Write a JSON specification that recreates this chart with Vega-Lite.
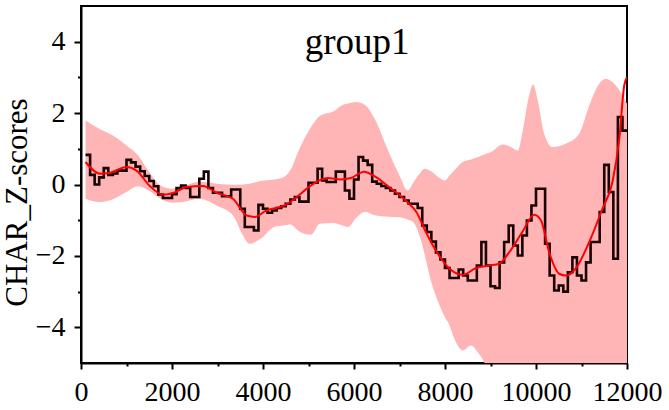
{
  "$schema": "https://vega.github.io/schema/vega-lite/v6.json",
  "width": 546,
  "height": 357,
  "autosize": {"type": "none"},
  "padding": {"left": 81, "top": 6, "right": 42, "bottom": 47},
  "background": "white",
  "config": {
    "view": {"stroke": "black", "strokeWidth": 2},
    "axis": {
      "grid": false,
      "domainColor": "black",
      "domainWidth": 2,
      "tickColor": "black",
      "tickWidth": 2,
      "labelFont": "Liberation Serif",
      "labelFontSize": 28,
      "labelColor": "black",
      "labelOverlap": false,
      "labelFlush": false,
      "titleFont": "Liberation Serif",
      "titleFontSize": 31,
      "titleFontWeight": "normal",
      "titleColor": "black"
    }
  },
  "datasets": {
    "band": [
      {"year": 100, "z": 1.80, "lo": -0.40},
      {"year": 400, "z": 1.56, "lo": -0.49},
      {"year": 700, "z": 1.37, "lo": -0.41},
      {"year": 1000, "z": 1.09, "lo": -0.21},
      {"year": 1250, "z": 0.82, "lo": -0.05},
      {"year": 1450, "z": 0.44, "lo": -0.14},
      {"year": 1750, "z": -0.03, "lo": -0.40},
      {"year": 2000, "z": -0.12, "lo": -0.51},
      {"year": 2200, "z": -0.07, "lo": -0.50},
      {"year": 2600, "z": 0.08, "lo": -0.40},
      {"year": 3000, "z": 0.02, "lo": -0.60},
      {"year": 3350, "z": -0.01, "lo": -0.88},
      {"year": 3550, "z": 0.00, "lo": -1.40},
      {"year": 3700, "z": 0.02, "lo": -1.66},
      {"year": 3950, "z": 0.10, "lo": -1.52},
      {"year": 4250, "z": 0.14, "lo": -1.19},
      {"year": 4450, "z": 0.20, "lo": -1.15},
      {"year": 4600, "z": 0.40, "lo": -1.12},
      {"year": 4800, "z": 1.00, "lo": -1.32},
      {"year": 5050, "z": 1.60, "lo": -1.41},
      {"year": 5250, "z": 1.92, "lo": -1.10},
      {"year": 5550, "z": 2.05, "lo": -1.08},
      {"year": 5750, "z": 2.23, "lo": -1.15},
      {"year": 5870, "z": 2.27, "lo": -1.19},
      {"year": 6050, "z": 2.31, "lo": -0.93},
      {"year": 6250, "z": 2.22, "lo": -0.76},
      {"year": 6450, "z": 1.85, "lo": -0.86},
      {"year": 6750, "z": 0.95, "lo": -0.90},
      {"year": 7000, "z": 0.25, "lo": -0.92},
      {"year": 7180, "z": -0.17, "lo": -0.98},
      {"year": 7300, "z": 0.05, "lo": -1.05},
      {"year": 7440, "z": 0.30, "lo": -1.43},
      {"year": 7550, "z": 0.44, "lo": -1.95},
      {"year": 7660, "z": 0.40, "lo": -2.55},
      {"year": 7880, "z": 0.18, "lo": -3.39},
      {"year": 7990, "z": 0.11, "lo": -3.70},
      {"year": 8100, "z": 0.25, "lo": -3.95},
      {"year": 8170, "z": 0.35, "lo": -4.20},
      {"year": 8280, "z": 0.50, "lo": -4.51},
      {"year": 8390, "z": 0.63, "lo": -4.65},
      {"year": 8570, "z": 0.70, "lo": -4.51},
      {"year": 8720, "z": 0.76, "lo": -4.70},
      {"year": 8900, "z": 0.86, "lo": -5.08},
      {"year": 9000, "z": 0.90, "lo": -5.40},
      {"year": 9270, "z": 1.12, "lo": -6.00},
      {"year": 9450, "z": 1.05, "lo": -6.30},
      {"year": 9600, "z": 0.95, "lo": -6.50},
      {"year": 9700, "z": 1.45, "lo": -6.60},
      {"year": 9850, "z": 2.50, "lo": -6.80},
      {"year": 9940, "z": 2.80, "lo": -7.00},
      {"year": 10030, "z": 2.40, "lo": -7.00},
      {"year": 10180, "z": 1.42, "lo": -7.00},
      {"year": 10360, "z": 1.05, "lo": -7.00},
      {"year": 10650, "z": 1.14, "lo": -7.00},
      {"year": 10950, "z": 1.42, "lo": -7.00},
      {"year": 11170, "z": 2.21, "lo": -7.00},
      {"year": 11390, "z": 2.82, "lo": -7.00},
      {"year": 11530, "z": 2.96, "lo": -7.00},
      {"year": 11720, "z": 2.82, "lo": -7.00},
      {"year": 11900, "z": 2.50, "lo": -7.00},
      {"year": 12000, "z": 2.26, "lo": -7.00}
    ],
    "steps": [
      {"year": 100, "z": 0.83},
      {"year": 200, "z": 0.27},
      {"year": 300, "z": 0.00},
      {"year": 400, "z": 0.20},
      {"year": 500, "z": 0.46},
      {"year": 600, "z": 0.27},
      {"year": 700, "z": 0.31},
      {"year": 800, "z": 0.39},
      {"year": 1000, "z": 0.69},
      {"year": 1100, "z": 0.62},
      {"year": 1200, "z": 0.50},
      {"year": 1300, "z": 0.37},
      {"year": 1400, "z": 0.24},
      {"year": 1500, "z": 0.10},
      {"year": 1600, "z": -0.05},
      {"year": 1700, "z": -0.28},
      {"year": 1800, "z": -0.38},
      {"year": 2000, "z": -0.27},
      {"year": 2100, "z": -0.10},
      {"year": 2200, "z": -0.03},
      {"year": 2300, "z": -0.10},
      {"year": 2400, "z": -0.35},
      {"year": 2600, "z": 0.16},
      {"year": 2700, "z": 0.36},
      {"year": 2800, "z": -0.10},
      {"year": 2900, "z": -0.23},
      {"year": 3100, "z": -0.33},
      {"year": 3300, "z": -0.14},
      {"year": 3500, "z": -0.68},
      {"year": 3600, "z": -1.19},
      {"year": 3800, "z": -1.29},
      {"year": 3900, "z": -0.57},
      {"year": 4000, "z": -0.68},
      {"year": 4100, "z": -0.79},
      {"year": 4200, "z": -0.73},
      {"year": 4300, "z": -0.66},
      {"year": 4400, "z": -0.61},
      {"year": 4500, "z": -0.54},
      {"year": 4600, "z": -0.42},
      {"year": 4700, "z": -0.35},
      {"year": 4800, "z": -0.48},
      {"year": 5000, "z": 0.05},
      {"year": 5200, "z": 0.44},
      {"year": 5300, "z": 0.11},
      {"year": 5400, "z": 0.07},
      {"year": 5600, "z": 0.36},
      {"year": 5800, "z": -0.17},
      {"year": 5900, "z": -0.40},
      {"year": 6000, "z": 0.14},
      {"year": 6100, "z": 0.77},
      {"year": 6200, "z": 0.67},
      {"year": 6300, "z": 0.55},
      {"year": 6400, "z": 0.08},
      {"year": 6500, "z": 0.02},
      {"year": 6600, "z": -0.04},
      {"year": 6700, "z": -0.10},
      {"year": 6800, "z": -0.17},
      {"year": 6900, "z": -0.26},
      {"year": 7000, "z": -0.35},
      {"year": 7100, "z": -0.45},
      {"year": 7200, "z": -0.54},
      {"year": 7400, "z": -0.66},
      {"year": 7500, "z": -1.15},
      {"year": 7600, "z": -1.33},
      {"year": 7700, "z": -1.60},
      {"year": 7800, "z": -1.90},
      {"year": 7900, "z": -2.10},
      {"year": 8000, "z": -2.34},
      {"year": 8100, "z": -2.62},
      {"year": 8300, "z": -2.38},
      {"year": 8400, "z": -2.55},
      {"year": 8500, "z": -2.69},
      {"year": 8700, "z": -2.27},
      {"year": 8800, "z": -1.61},
      {"year": 8900, "z": -2.27},
      {"year": 9000, "z": -2.85},
      {"year": 9100, "z": -2.90},
      {"year": 9200, "z": -2.18},
      {"year": 9300, "z": -1.61},
      {"year": 9400, "z": -1.15},
      {"year": 9500, "z": -1.71},
      {"year": 9600, "z": -1.99},
      {"year": 9700, "z": -1.43},
      {"year": 9800, "z": -1.01},
      {"year": 9900, "z": -0.59},
      {"year": 10000, "z": -0.12},
      {"year": 10200, "z": -1.66},
      {"year": 10300, "z": -2.55},
      {"year": 10400, "z": -2.97},
      {"year": 10500, "z": -2.83},
      {"year": 10600, "z": -3.00},
      {"year": 10700, "z": -2.46},
      {"year": 10800, "z": -2.04},
      {"year": 10900, "z": -2.55},
      {"year": 11000, "z": -2.69},
      {"year": 11100, "z": -2.18},
      {"year": 11200, "z": -1.61},
      {"year": 11400, "z": -0.77},
      {"year": 11500, "z": 0.55},
      {"year": 11600, "z": -0.21},
      {"year": 11700, "z": -2.08},
      {"year": 11800, "z": 1.89},
      {"year": 11900, "z": 1.51},
      {"year": 12000, "z": 1.51}
    ],
    "smooth": [
      {"year": 100, "z": 0.63},
      {"year": 420, "z": 0.30},
      {"year": 640, "z": 0.33},
      {"year": 1000, "z": 0.49},
      {"year": 1220, "z": 0.39},
      {"year": 1510, "z": -0.04},
      {"year": 1810, "z": -0.29},
      {"year": 2030, "z": -0.24},
      {"year": 2320, "z": -0.07},
      {"year": 2680, "z": -0.04},
      {"year": 2980, "z": -0.23},
      {"year": 3340, "z": -0.40},
      {"year": 3640, "z": -0.87},
      {"year": 3820, "z": -0.91},
      {"year": 4070, "z": -0.73},
      {"year": 4370, "z": -0.63},
      {"year": 4540, "z": -0.54},
      {"year": 4760, "z": -0.33},
      {"year": 5050, "z": -0.03},
      {"year": 5420, "z": 0.18},
      {"year": 5710, "z": 0.14},
      {"year": 5930, "z": 0.18},
      {"year": 6220, "z": 0.36},
      {"year": 6440, "z": 0.24},
      {"year": 6740, "z": -0.04},
      {"year": 7170, "z": -0.49},
      {"year": 7370, "z": -0.77},
      {"year": 7580, "z": -1.33},
      {"year": 7800, "z": -1.85},
      {"year": 8100, "z": -2.36},
      {"year": 8390, "z": -2.53},
      {"year": 8680, "z": -2.34},
      {"year": 8970, "z": -2.27},
      {"year": 9190, "z": -2.22},
      {"year": 9410, "z": -1.90},
      {"year": 9700, "z": -1.33},
      {"year": 9960, "z": -0.85},
      {"year": 10110, "z": -1.01},
      {"year": 10290, "z": -1.90},
      {"year": 10510, "z": -2.50},
      {"year": 10660, "z": -2.55},
      {"year": 10880, "z": -2.34},
      {"year": 11170, "z": -1.61},
      {"year": 11460, "z": -0.68},
      {"year": 11680, "z": 0.07},
      {"year": 11830, "z": 1.28},
      {"year": 11940, "z": 2.78},
      {"year": 12000, "z": 3.00}
    ],
    "panel": [
      {"year": 6070, "z": 3.66, "label": "group1"}
    ]
  },
  "encoding": {
    "x": {
      "field": "year",
      "type": "quantitative",
      "scale": {"domain": [0, 12000], "nice": false, "zero": false},
      "axis": {
        "title": null,
        "values": [0, 1000, 2000, 3000, 4000, 5000, 6000, 7000, 8000, 9000, 10000, 11000, 12000],
        "format": "d",
        "labelExpr": "datum.value % 2000 === 0 ? datum.label : ''",
        "tickSize": {"condition": {"test": "datum.value % 2000 === 0", "value": 6}, "value": 3},
        "labelPadding": 9
      }
    },
    "y": {
      "field": "z",
      "type": "quantitative",
      "scale": {"domain": [-5, 5], "nice": false, "zero": false},
      "axis": {
        "title": "CHAR_Z-scores",
        "values": [-4, -3, -2, -1, 0, 1, 2, 3, 4],
        "labelExpr": "datum.value % 2 === 0 ? datum.label : ''",
        "tickSize": {"condition": {"test": "datum.value % 2 === 0", "value": 7}, "value": 3.5},
        "labelPadding": 9,
        "titlePadding": 2,
        "titleY": 196
      }
    }
  },
  "layer": [
    {
      "data": {"name": "band"},
      "mark": {"type": "area", "interpolate": "monotone", "color": "#ffb5b5", "opacity": 1, "clip": true},
      "encoding": {"y2": {"field": "lo"}}
    },
    {
      "data": {"name": "steps"},
      "mark": {"type": "line", "interpolate": "step-after", "color": "#1a0000", "strokeWidth": 2.6, "clip": true},
      "encoding": {}
    },
    {
      "data": {"name": "smooth"},
      "mark": {"type": "line", "interpolate": "monotone", "color": "#ff0000", "strokeWidth": 2, "clip": true},
      "encoding": {}
    },
    {
      "data": {"name": "panel"},
      "mark": {"type": "text", "font": "Liberation Serif", "fontSize": 37, "color": "black", "align": "center", "baseline": "alphabetic"},
      "encoding": {"text": {"field": "label"}}
    }
  ]
}
